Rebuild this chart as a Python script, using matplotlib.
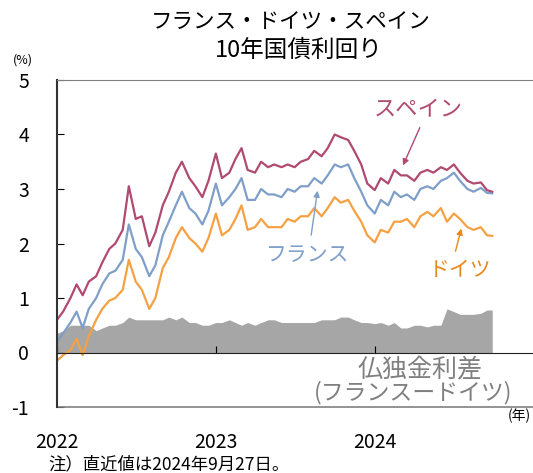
import matplotlib
matplotlib.use('Agg')
from matplotlib import pyplot as plt
import pandas as pd
import numpy as np

plt.rcParams['font.family'] = ['Noto Sans CJK JP', 'DejaVu Sans']
plt.rcParams['axes.unicode_minus'] = False

# semi-monthly readings (1st and 15th), last point = 2024-09-27
dates = list(pd.date_range('2022-01-01', '2024-09-15', freq='SMS')) + [pd.Timestamp('2024-09-27')]

germany = [-0.15, -0.05, 0.05, 0.25, -0.05, 0.3, 0.6, 0.8, 0.95, 1.0, 1.15, 1.7,
           1.3, 1.15, 0.8, 1.0, 1.55, 1.75, 2.1, 2.3, 2.1, 2.0, 1.85, 2.1,
           2.55, 2.15, 2.25, 2.45, 2.7, 2.25, 2.3, 2.45, 2.3, 2.3, 2.3, 2.45,
           2.4, 2.5, 2.5, 2.65, 2.5, 2.65, 2.85, 2.75, 2.8, 2.6, 2.4, 2.15,
           2.02, 2.25, 2.2, 2.4, 2.4, 2.45, 2.3, 2.5, 2.58, 2.5, 2.65, 2.4,
           2.55, 2.45, 2.3, 2.25, 2.3, 2.15, 2.14]
france = [0.2, 0.35, 0.55, 0.75, 0.45, 0.8, 1.0, 1.25, 1.45, 1.5, 1.7, 2.35,
          1.9, 1.75, 1.4, 1.6, 2.15, 2.4, 2.7, 2.95, 2.65, 2.55, 2.35, 2.6,
          3.1, 2.7, 2.85, 3.0, 3.2, 2.8, 2.8, 3.0, 2.9, 2.9, 2.85, 3.0,
          2.95, 3.05, 3.05, 3.2, 3.1, 3.25, 3.45, 3.4, 3.45, 3.2, 2.95, 2.7,
          2.55, 2.8, 2.7, 2.95, 2.85, 2.9, 2.8, 3.0, 3.05, 3.0, 3.15, 3.2,
          3.3, 3.15, 3.0, 2.95, 3.02, 2.93, 2.92]
spain = [0.6, 0.75, 1.0, 1.25, 1.05, 1.3, 1.4, 1.65, 1.9, 2.0, 2.25, 3.05,
         2.45, 2.5, 1.95, 2.2, 2.7, 2.95, 3.3, 3.5, 3.2, 3.05, 2.85, 3.15,
         3.65, 3.2, 3.3, 3.55, 3.75, 3.35, 3.3, 3.5, 3.4, 3.45, 3.4, 3.45,
         3.4, 3.5, 3.55, 3.7, 3.6, 3.75, 4.0, 3.95, 3.9, 3.7, 3.45, 3.1,
         2.98, 3.2, 3.1, 3.35, 3.25, 3.25, 3.15, 3.3, 3.35, 3.3, 3.4, 3.35,
         3.45, 3.3, 3.15, 3.1, 3.12, 2.98, 2.95]

df = pd.DataFrame({'date': dates, 'ger': germany, 'fra': france, 'esp': spain})
df['spread'] = df['fra'] - df['ger']  # 仏独金利差

year_ticks = ['2022', '2023', '2024']

fig = plt.figure(figsize=(5.33, 4.73), dpi=100)
ax = fig.add_axes([57/533, 1 - 407/473, 477/533, 327/473])

ax.fill_between(df['date'], 0, df['spread'], color='#a6a6a6', lw=0)
ax.plot(df['date'], df['ger'], color='#f5a142', lw=1.6)
ax.plot(df['date'], df['fra'], color='#7f9fc8', lw=1.6)
ax.plot(df['date'], df['esp'], color='#b04a70', lw=1.6)

ax.set_ylim(-1, 5)
ax.set_xlim(pd.Timestamp('2022-01-01'), pd.Timestamp('2025-01-01'))
ax.set_yticks(range(-1, 6))
ax.set_xticks([pd.Timestamp(y + '-01-01') for y in year_ticks])
ax.set_xticklabels(year_ticks)

ax.spines['bottom'].set_position(('data', 0))
ax.spines['bottom'].set_color('#222222')
ax.spines['left'].set_color('#333333')
ax.spines['left'].set_linewidth(1.5)
ax.spines['top'].set_color('#808080')
ax.spines['right'].set_visible(False)
ax.axhline(-1, color='#808080', lw=1.2, clip_on=False)

ax.tick_params(axis='y', direction='in', length=5, pad=20, labelsize=14)
ax.tick_params(axis='x', direction='in', length=5, pad=57, labelsize=14)

fig.text(291/533, 1 - 22/473, 'フランス・ドイツ・スペイン', ha='center', va='center', fontsize=15.5)
fig.text(299/533, 1 - 50/473, '10年国債利回り', ha='center', va='center', fontsize=17)
fig.text(23/533, 1 - 60/473, '(%)', ha='center', va='center', fontsize=9)
fig.text(508/533, 1 - 416/473, '(年)', ha='left', va='center', fontsize=10)
fig.text(48/533, 1 - 464/473, '注）直近値は2024年9月27日。', ha='left', va='center', fontsize=12.5)

ax.text(0.757, 0.908, 'スペイン', transform=ax.transAxes, ha='center', va='center',
        fontsize=16, color='#b04a70')
ax.annotate('', xy=(0.723, 0.731), xytext=(0.763, 0.862), xycoords='axes fraction',
            arrowprops=dict(arrowstyle='-|>', color='#b04a70', lw=1, mutation_scale=9))
ax.text(0.526, 0.465, 'フランス', transform=ax.transAxes, ha='center', va='center',
        fontsize=15, color='#7f9fc8')
ax.annotate('', xy=(0.547, 0.670), xytext=(0.532, 0.517), xycoords='axes fraction',
            arrowprops=dict(arrowstyle='-|>', color='#7f9fc8', lw=1, mutation_scale=9))
ax.text(0.845, 0.419, 'ドイツ', transform=ax.transAxes, ha='center', va='center',
        fontsize=15, color='#e8891c')
ax.annotate('', xy=(0.849, 0.554), xytext=(0.834, 0.468), xycoords='axes fraction',
            arrowprops=dict(arrowstyle='-|>', color='#e8891c', lw=1, mutation_scale=9))
ax.text(0.761, 0.113, '仏独金利差', transform=ax.transAxes, ha='center', va='center',
        fontsize=18, color='#808080')
ax.text(0.746, 0.043, '(フランスードイツ)', transform=ax.transAxes, ha='center', va='center',
        fontsize=16.5, color='#808080')

plt.savefig('out.png', dpi=100)
